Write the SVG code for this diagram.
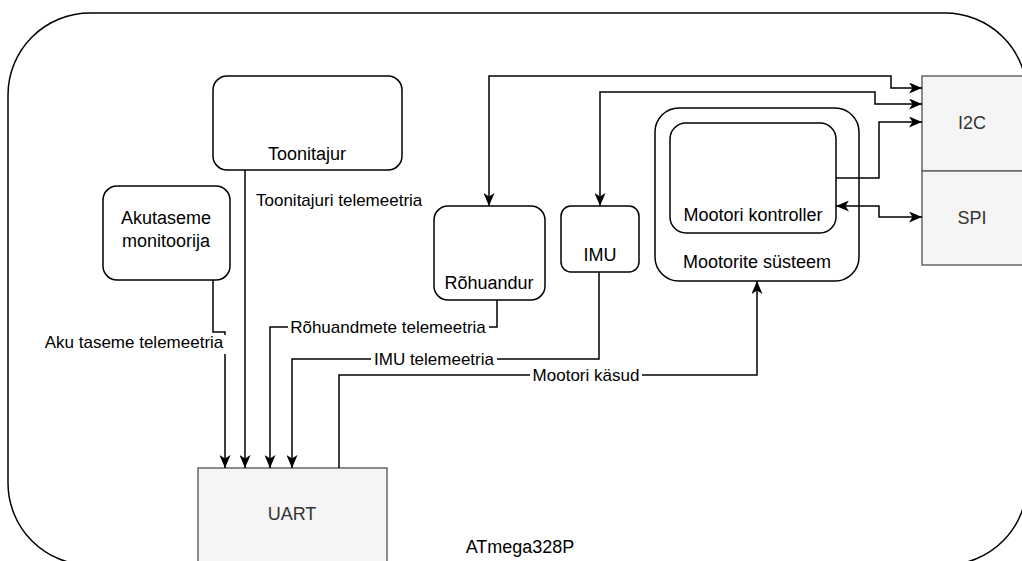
<svg xmlns="http://www.w3.org/2000/svg" width="1022" height="561" viewBox="0 0 1022 561">
  <defs>
    <marker id="arr" viewBox="0 0 13 11" refX="13" refY="5.5" markerUnits="userSpaceOnUse" markerWidth="13" markerHeight="11" orient="auto-start-reverse">
      <path d="M0,0 L13,5.5 L0,11 L3.5,5.5 Z" fill="#000"/>
    </marker>
  </defs>
  <style>
    .box { fill: #fff; stroke: #000; stroke-width: 1.5; }
    .periph { fill: #f5f5f5; stroke: #666; stroke-width: 1.5; }
    .lbl { font-family: "Liberation Sans", Arial, Helvetica, sans-serif; font-size: 18px; fill: #000; text-anchor: middle; }
    .plbl { font-family: "Liberation Sans", Arial, Helvetica, sans-serif; font-size: 18px; fill: #333; text-anchor: middle; }
    .elbl { font-family: "Liberation Sans", Arial, Helvetica, sans-serif; font-size: 17px; fill: #000; text-anchor: middle; }
    .edge { fill: none; stroke: #000; stroke-width: 1.5; }
    .lblbg { fill: #fff; }
  </style>

  <g id="atmega">
    <rect x="8" y="13" width="1019" height="552" rx="82" ry="82" class="box"/>
    <text x="520" y="553" class="lbl">ATmega328P</text>
  </g>

  <g id="toonitajur">
    <rect x="213" y="76" width="189" height="94" rx="14" class="box"/>
    <text x="307" y="160" class="lbl">Toonitajur</text>
  </g>

  <g id="akutaseme">
    <rect x="103" y="186" width="127" height="94" rx="14" class="box"/>
    <text x="166" y="224" class="lbl">Akutaseme</text>
    <text x="166" y="247" class="lbl">monitoorija</text>
  </g>

  <g id="rohuandur">
    <rect x="434" y="206" width="111" height="94" rx="14" class="box"/>
    <text x="489" y="289" class="lbl">Rõhuandur</text>
  </g>

  <g id="imu">
    <rect x="561" y="206" width="78" height="66" rx="10" class="box"/>
    <text x="600" y="261" class="lbl">IMU</text>
  </g>

  <g id="mootorite-systeem">
    <rect x="655" y="108" width="204" height="173" rx="24" class="box"/>
    <text x="757" y="268" class="lbl">Mootorite süsteem</text>
  </g>

  <g id="mootori-kontroller">
    <rect x="670" y="123" width="166" height="110" rx="16" class="box"/>
    <text x="753" y="221" class="lbl">Mootori kontroller</text>
  </g>

  <g id="i2c">
    <rect x="922" y="76" width="102" height="95" class="periph"/>
    <text x="972" y="129" class="plbl">I2C</text>
  </g>

  <g id="spi">
    <rect x="922" y="171" width="102" height="94" class="periph"/>
    <text x="972" y="224" class="plbl">SPI</text>
  </g>

  <g id="uart">
    <rect x="198" y="468" width="189" height="96" class="periph"/>
    <text x="292" y="520" class="plbl">UART</text>
  </g>

  <g id="connectors">
    <path class="edge" d="M489,206 L489,76 L891,76 L891,88 L922,88" marker-start="url(#arr)" marker-end="url(#arr)"/>
    <path class="edge" d="M600,206 L600,92 L875,92 L875,104 L922,104" marker-start="url(#arr)" marker-end="url(#arr)"/>
    <path class="edge" d="M836,178 L879,178 L879,122 L922,122" marker-end="url(#arr)"/>
    <path class="edge" d="M836,206 L879,206 L879,217 L922,217" marker-start="url(#arr)" marker-end="url(#arr)"/>

    <path class="edge" d="M245,170 L245,468" marker-end="url(#arr)"/>
    <text x="256" y="206" class="elbl" style="text-anchor:start">Toonitajuri telemeetria</text>

    <path class="edge" d="M213,280 L213,332 L225,332 L225,468" marker-end="url(#arr)"/>
    <rect x="42" y="335" width="186" height="19" class="lblbg"/>
    <text x="134" y="348" class="elbl">Aku taseme telemeetria</text>

    <path class="edge" d="M497,300 L497,327 L270,327 L270,468" marker-end="url(#arr)"/>
    <rect x="288" y="318" width="201" height="18" class="lblbg"/>
    <text x="388" y="333" class="elbl">Rõhuandmete telemeetria</text>

    <path class="edge" d="M599,272 L599,359 L292,359 L292,468" marker-end="url(#arr)"/>
    <rect x="371" y="350" width="126" height="18" class="lblbg"/>
    <text x="434" y="365" class="elbl">IMU telemeetria</text>

    <path class="edge" d="M339,468 L339,375 L757,375 L757,281" marker-end="url(#arr)"/>
    <rect x="530" y="366" width="112" height="18" class="lblbg"/>
    <text x="586" y="381" class="elbl">Mootori käsud</text>
  </g>
</svg>
